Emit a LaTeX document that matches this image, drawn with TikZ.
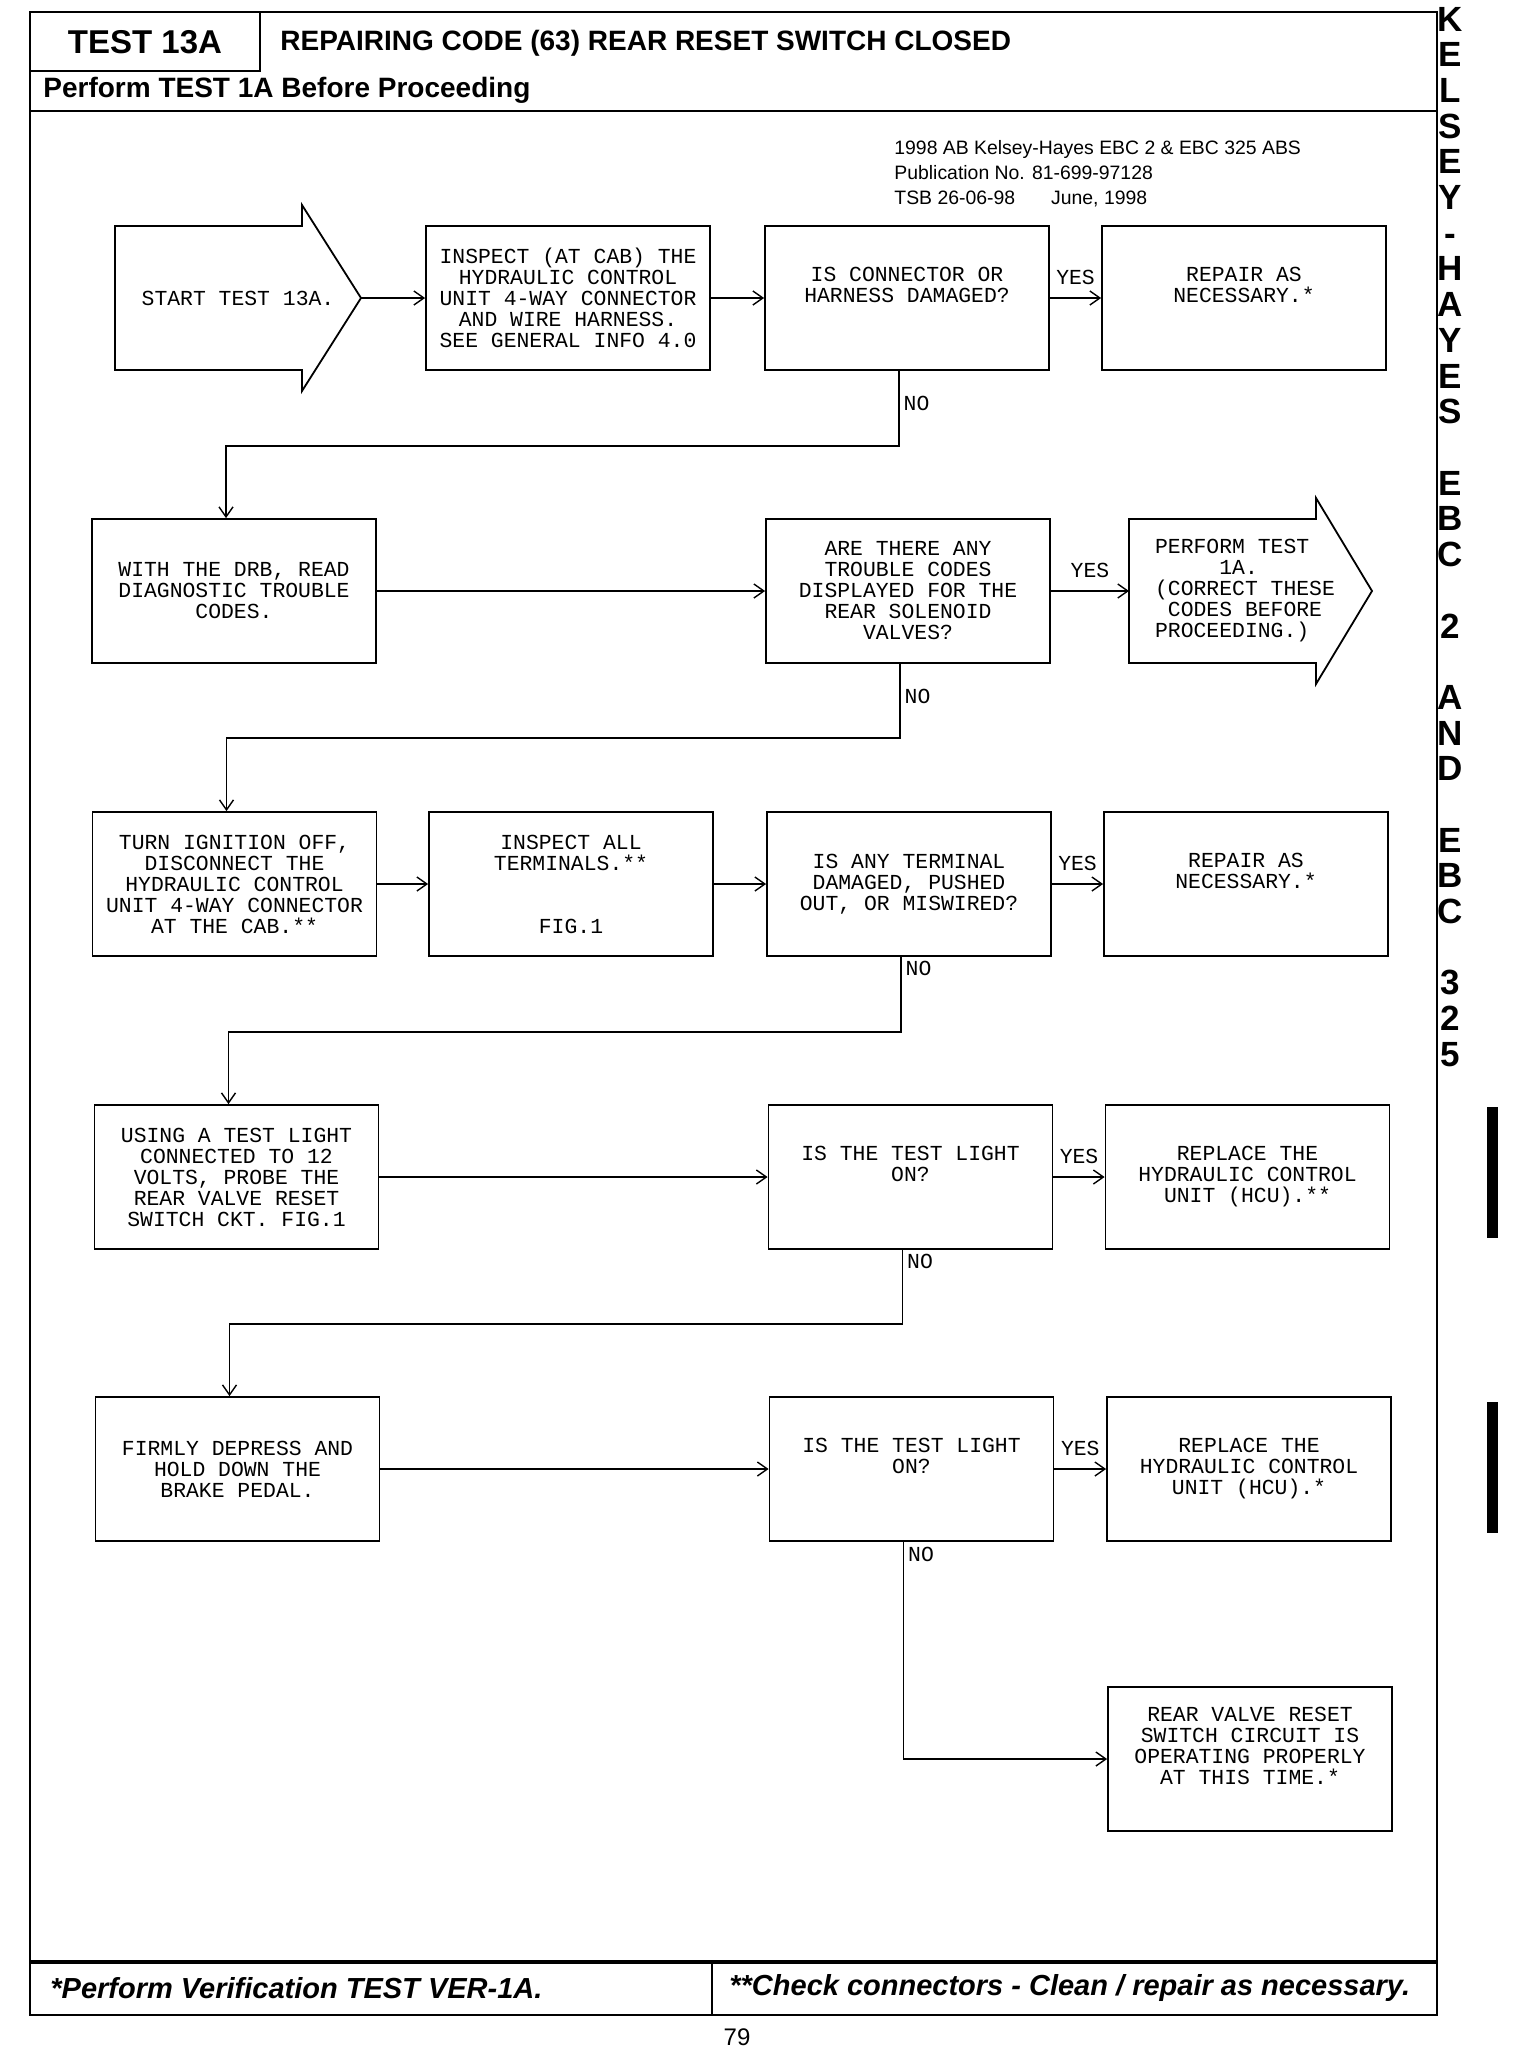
\documentclass[tikz,border=0pt]{standalone}
\usepackage{fontspec}
\setmainfont{Liberation Sans}
\newfontfamily\monofont{Liberation Mono}
\usetikzlibrary{arrows.meta}

\begin{document}
\begin{tikzpicture}[x=0.5pt,y=-0.5pt,
    stepbox/.style={draw, line width=0.9pt, minimum width=142pt, minimum height=72pt,
      inner sep=0pt, align=center, font=\monofont\fontsize{10.7}{10.5}\selectfont},
    steptext/.style={inner sep=0pt, align=center, font=\monofont\fontsize{10.7}{10.5}\selectfont},
    lbl/.style={inner sep=2pt, font=\monofont\fontsize{10.7}{10.5}\selectfont},
    yeslbl/.style={lbl, above, yshift=4.5pt},
    flow/.style={line width=0.7pt, -{Straight Barb[length=5pt,width=7pt]}},
    rule/.style={line width=1.4pt},
    sidechar/.style={inner sep=0pt, font=\bfseries\fontsize{17.5}{17.5}\selectfont}]
  \useasboundingbox (0,0) rectangle (1520,2050);

  % frame, header and footer
  \draw[rule] (30,12) rectangle (1437,2015);
  \draw[rule] (30,71) -- (260,71) -- (260,12);
  \draw[rule] (30,111) -- (1437,111);
  \draw[line width=1.8pt] (30,1962) -- (1437,1962);
  \draw[rule] (712,1962) -- (712,2015);
  \node[font=\bfseries\fontsize{16.5}{18}\selectfont] (testno) at (145,42) {TEST 13A};
  \node[anchor=west, inner sep=0pt, font=\bfseries\fontsize{14}{16}\selectfont] (title) at (280,43) {REPAIRING CODE (63) REAR RESET SWITCH CLOSED};
  \node[anchor=west, inner sep=0pt, font=\bfseries\fontsize{14}{16}\selectfont] (before) at (43,90) {Perform TEST 1A Before Proceeding};
  \node[anchor=north west, align=left, inner sep=0pt, font=\fontsize{9.7}{12.5}\selectfont] (pub) at (894,140)
    {1998 AB Kelsey-Hayes EBC 2 \& EBC 325 ABS\\Publication No. 81-699-97128\\TSB 26-06-98\hspace{18pt}June, 1998};
  \node[anchor=west, inner sep=0pt, font=\bfseries\itshape\fontsize{14.5}{16}\selectfont] (verify) at (50,1988) {*Perform Verification TEST VER-1A.};
  \node[anchor=west, inner sep=0pt, font=\bfseries\itshape\fontsize{14.5}{16}\selectfont] (check) at (729,1988) {**Check connectors - Clean / repair as necessary.};
  \node[font=\fontsize{12}{14}\selectfont] (page) at (737,2037) {79};

  % side strip
  \foreach \i/\c in {0/K,1/E,2/L,3/S,4/E,5/Y,7/H,8/A,9/Y,10/E,11/S,13/E,14/B,15/C,17/2,
      19/A,20/N,21/D,23/E,24/B,25/C,27/3,28/2,29/5}
    \node[sidechar] (side\i) at (1450,19+35.7*\i) {\c};
  \node[sidechar] (sidedash) at (1450,240) {-};
  \fill (1487,1107) rectangle (1498,1238);
  \fill (1487,1402) rectangle (1498,1533);

  % row 1
  \draw[line width=0.9pt] (115,226) -- (302,226) -- (302,205) -- (361,298) -- (302,391) -- (302,370) -- (115,370) -- cycle;
  \node[steptext] (start) at (238,298) {START TEST 13A.};
  \coordinate (starttip) at (361,298);
  \node[stepbox] (insp) at (568,298) {INSPECT (AT CAB) THE\\HYDRAULIC CONTROL\\UNIT 4-WAY CONNECTOR\\AND WIRE HARNESS.\\SEE GENERAL INFO 4.0};
  \node[stepbox] (conn) at (907,298) {IS CONNECTOR OR\\HARNESS DAMAGED?\\\strut};
  \node[stepbox] (fix1) at (1244,298) {REPAIR AS\\NECESSARY.*\\\strut};

  % row 2
  \node[stepbox] (drb) at (234,591) {WITH THE DRB, READ\\DIAGNOSTIC TROUBLE\\CODES.};
  \node[stepbox] (codes) at (908,591) {ARE THERE ANY\\TROUBLE CODES\\DISPLAYED FOR THE\\REAR SOLENOID\\VALVES?};
  \draw[line width=0.9pt] (1129,519) -- (1316,519) -- (1316,498) -- (1372,591) -- (1316,684) -- (1316,663) -- (1129,663) -- cycle;
  \node[steptext, align=left] (retest) at (1245,591) {PERFORM TEST\\\phantom{PERFO}1A.\\(CORRECT THESE\\\phantom{(}CODES BEFORE\\PROCEEDING.)};
  \coordinate (retesttail) at (1129,591);

  % row 3
  \node[stepbox] (ign) at (234.5,884) {TURN IGNITION OFF,\\DISCONNECT THE\\HYDRAULIC CONTROL\\UNIT 4-WAY CONNECTOR\\AT THE CAB.**};
  \node[stepbox] (term) at (571,884) {INSPECT ALL\\TERMINALS.**\\[21pt]FIG.1};
  \node[stepbox] (damg) at (909,884) {IS ANY TERMINAL\\DAMAGED, PUSHED\\OUT, OR MISWIRED?};
  \node[stepbox] (fix2) at (1246,884) {REPAIR AS\\NECESSARY.*\\\strut};

  % row 4
  \node[stepbox] (probe) at (236.5,1177) {USING A TEST LIGHT\\CONNECTED TO 12\\VOLTS, PROBE THE\\REAR VALVE RESET\\SWITCH CKT. FIG.1};
  \node[stepbox] (lamp1) at (910.5,1177) {IS THE TEST LIGHT\\ON?\\\strut};
  \node[stepbox] (hcu1) at (1247.5,1177) {REPLACE THE\\HYDRAULIC CONTROL\\UNIT (HCU).**};

  % row 5
  \node[stepbox] (pedal) at (237.5,1469) {FIRMLY DEPRESS AND\\HOLD DOWN THE\\BRAKE PEDAL.};
  \node[stepbox] (lamp2) at (911.5,1469) {IS THE TEST LIGHT\\ON?\\\strut};
  \node[stepbox] (hcu2) at (1249,1469) {REPLACE THE\\HYDRAULIC CONTROL\\UNIT (HCU).*};
  \node[stepbox] (okay) at (1250,1759) {REAR VALVE RESET\\SWITCH CIRCUIT IS\\OPERATING PROPERLY\\AT THIS TIME.*\\\strut};

  % connectors
  \draw[flow] (starttip) -- (insp.west);
  \draw[flow] (insp.east) -- (conn.west);
  \draw[flow] (conn.east) -- node[yeslbl] {YES} (fix1.west);
  \draw[flow] ([xshift=-4pt]conn.south) -- node[lbl, anchor=west, pos=0.44] {NO} ++(0,75) -| ([xshift=-4pt]drb.north);
  \draw[flow] (drb.east) -- (codes.west);
  \draw[flow] (codes.east) -- node[yeslbl] {YES} (retesttail);
  \draw[flow] ([xshift=-4pt]codes.south) -- node[lbl, anchor=west, pos=0.44] {NO} ++(0,74) -| ([xshift=-4pt]ign.north);
  \draw[flow] (ign.east) -- (term.west);
  \draw[flow] (term.east) -- (damg.west);
  \draw[flow] (damg.east) -- node[yeslbl] {YES} (fix2.west);
  \draw[flow] ([xshift=-4pt]damg.south) -- node[lbl, anchor=west, pos=0.16] {NO} ++(0,75) -| ([xshift=-4pt]probe.north);
  \draw[flow] (probe.east) -- (lamp1.west);
  \draw[flow] (lamp1.east) -- node[yeslbl] {YES} (hcu1.west);
  \draw[flow] ([xshift=-4pt]lamp1.south) -- node[lbl, anchor=west, pos=0.16] {NO} ++(0,74) -| ([xshift=-4pt]pedal.north);
  \draw[flow] (pedal.east) -- (lamp2.west);
  \draw[flow] (lamp2.east) -- node[yeslbl] {YES} (hcu2.west);
  \draw[flow] ([xshift=-4pt]lamp2.south) |- node[lbl, anchor=west, pos=0.03] {NO} (okay.west);
\end{tikzpicture}
\end{document}
